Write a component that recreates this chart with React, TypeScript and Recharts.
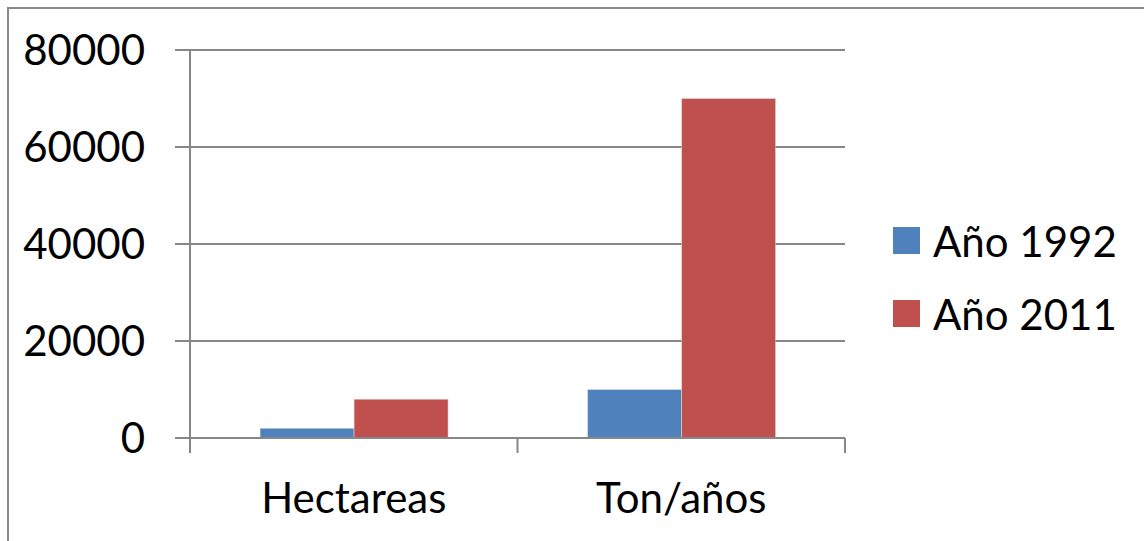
import { Bar, BarChart, CartesianGrid, XAxis, YAxis } from "recharts";

const CATEGORIES = ["Hectareas", "Ton/años"];
const SERIES_1992 = [2000, 10000];
const SERIES_2011 = [8000, 70000];
const Y_TICKS = [0, 20000, 40000, 60000, 80000];

const SERIES = [
  { key: "y1992", name: "Año 1992", color: "#4F81BD" },
  { key: "y2011", name: "Año 2011", color: "#C0504D" },
];

const W = 1144;
const H = 541;
const Y_AXIS_W = 190;
const X_AXIS_H = 30;
const MARGIN = { top: 50, right: 299, bottom: 103 - X_AXIS_H, left: 0 };
const AXIS = "#878787";
const FONT = "Lato, 'Open Sans', sans-serif";

const data = CATEGORIES.map((c, i) => ({
  name: c,
  y1992: SERIES_1992[i],
  y2011: SERIES_2011[i],
}));

const halfBand = (W - Y_AXIS_W - MARGIN.left - MARGIN.right) / CATEGORIES.length / 2;

// category labels sit mid-band, tick marks sit on the band edges
function CategoryTick(props: any) {
  const { x, y, payload, index } = props;
  const last = index === CATEGORIES.length - 1;
  const top = y - 8; // y arrives offset by the default tick size + margin
  return (
    <g>
      <line x1={x - halfBand} x2={x - halfBand} y1={top} y2={top + 15} stroke={AXIS} strokeWidth={2} />
      {last && (
        <line x1={x + halfBand} x2={x + halfBand} y1={top} y2={top + 15} stroke={AXIS} strokeWidth={2} />
      )}
      <text x={x} y={top + 75} textAnchor="middle" fill="#000" fontSize={42} fontFamily={FONT}>
        {payload.value}
      </text>
    </g>
  );
}

function LegendBox() {
  return (
    <div
      style={{
        position: "absolute",
        left: 893,
        top: 204,
        fontFamily: FONT,
        fontSize: 42,
        color: "#000",
        whiteSpace: "nowrap",
      }}
    >
      {SERIES.map((s) => (
        <div key={s.key} style={{ display: "flex", alignItems: "center", height: 73 }}>
          <span style={{ width: 27, height: 27, background: s.color, marginRight: 13 }} />
          <span>{s.name}</span>
        </div>
      ))}
    </div>
  );
}

export default function App() {
  return (
    <div style={{ position: "absolute", left: 0, top: 0, width: W, height: H, background: "#fff", overflow: "hidden" }}>
      <div
        style={{
          position: "absolute",
          left: 7,
          top: 7,
          width: W + 20,
          height: H + 20,
          border: "2px solid #8a8a8a",
        }}
      />
      <BarChart width={W} height={H} data={data} margin={MARGIN} barCategoryGap="21.4%" barGap={0}>
        <CartesianGrid vertical={false} stroke={AXIS} strokeWidth={2} />
        <XAxis
          dataKey="name"
          height={X_AXIS_H}
          axisLine={{ stroke: AXIS, strokeWidth: 2 }}
          tickLine={false}
          tick={<CategoryTick />}
          interval={0}
        />
        <YAxis
          domain={[0, 80000]}
          ticks={Y_TICKS}
          interval={0}
          axisLine={{ stroke: AXIS, strokeWidth: 2 }}
          tickLine={{ stroke: AXIS, strokeWidth: 2 }}
          tickSize={15}
          tickMargin={30}
          tick={{ fill: "#000", fontSize: 42, fontFamily: FONT }}
          width={Y_AXIS_W}
        />
        {SERIES.map((s) => (
          <Bar
            key={s.key}
            dataKey={s.key}
            name={s.name}
            fill={s.color}
            stroke="#e6e6e6"
            strokeWidth={0.5}
            isAnimationActive={false}
          />
        ))}
      </BarChart>
      <LegendBox />
    </div>
  );
}
